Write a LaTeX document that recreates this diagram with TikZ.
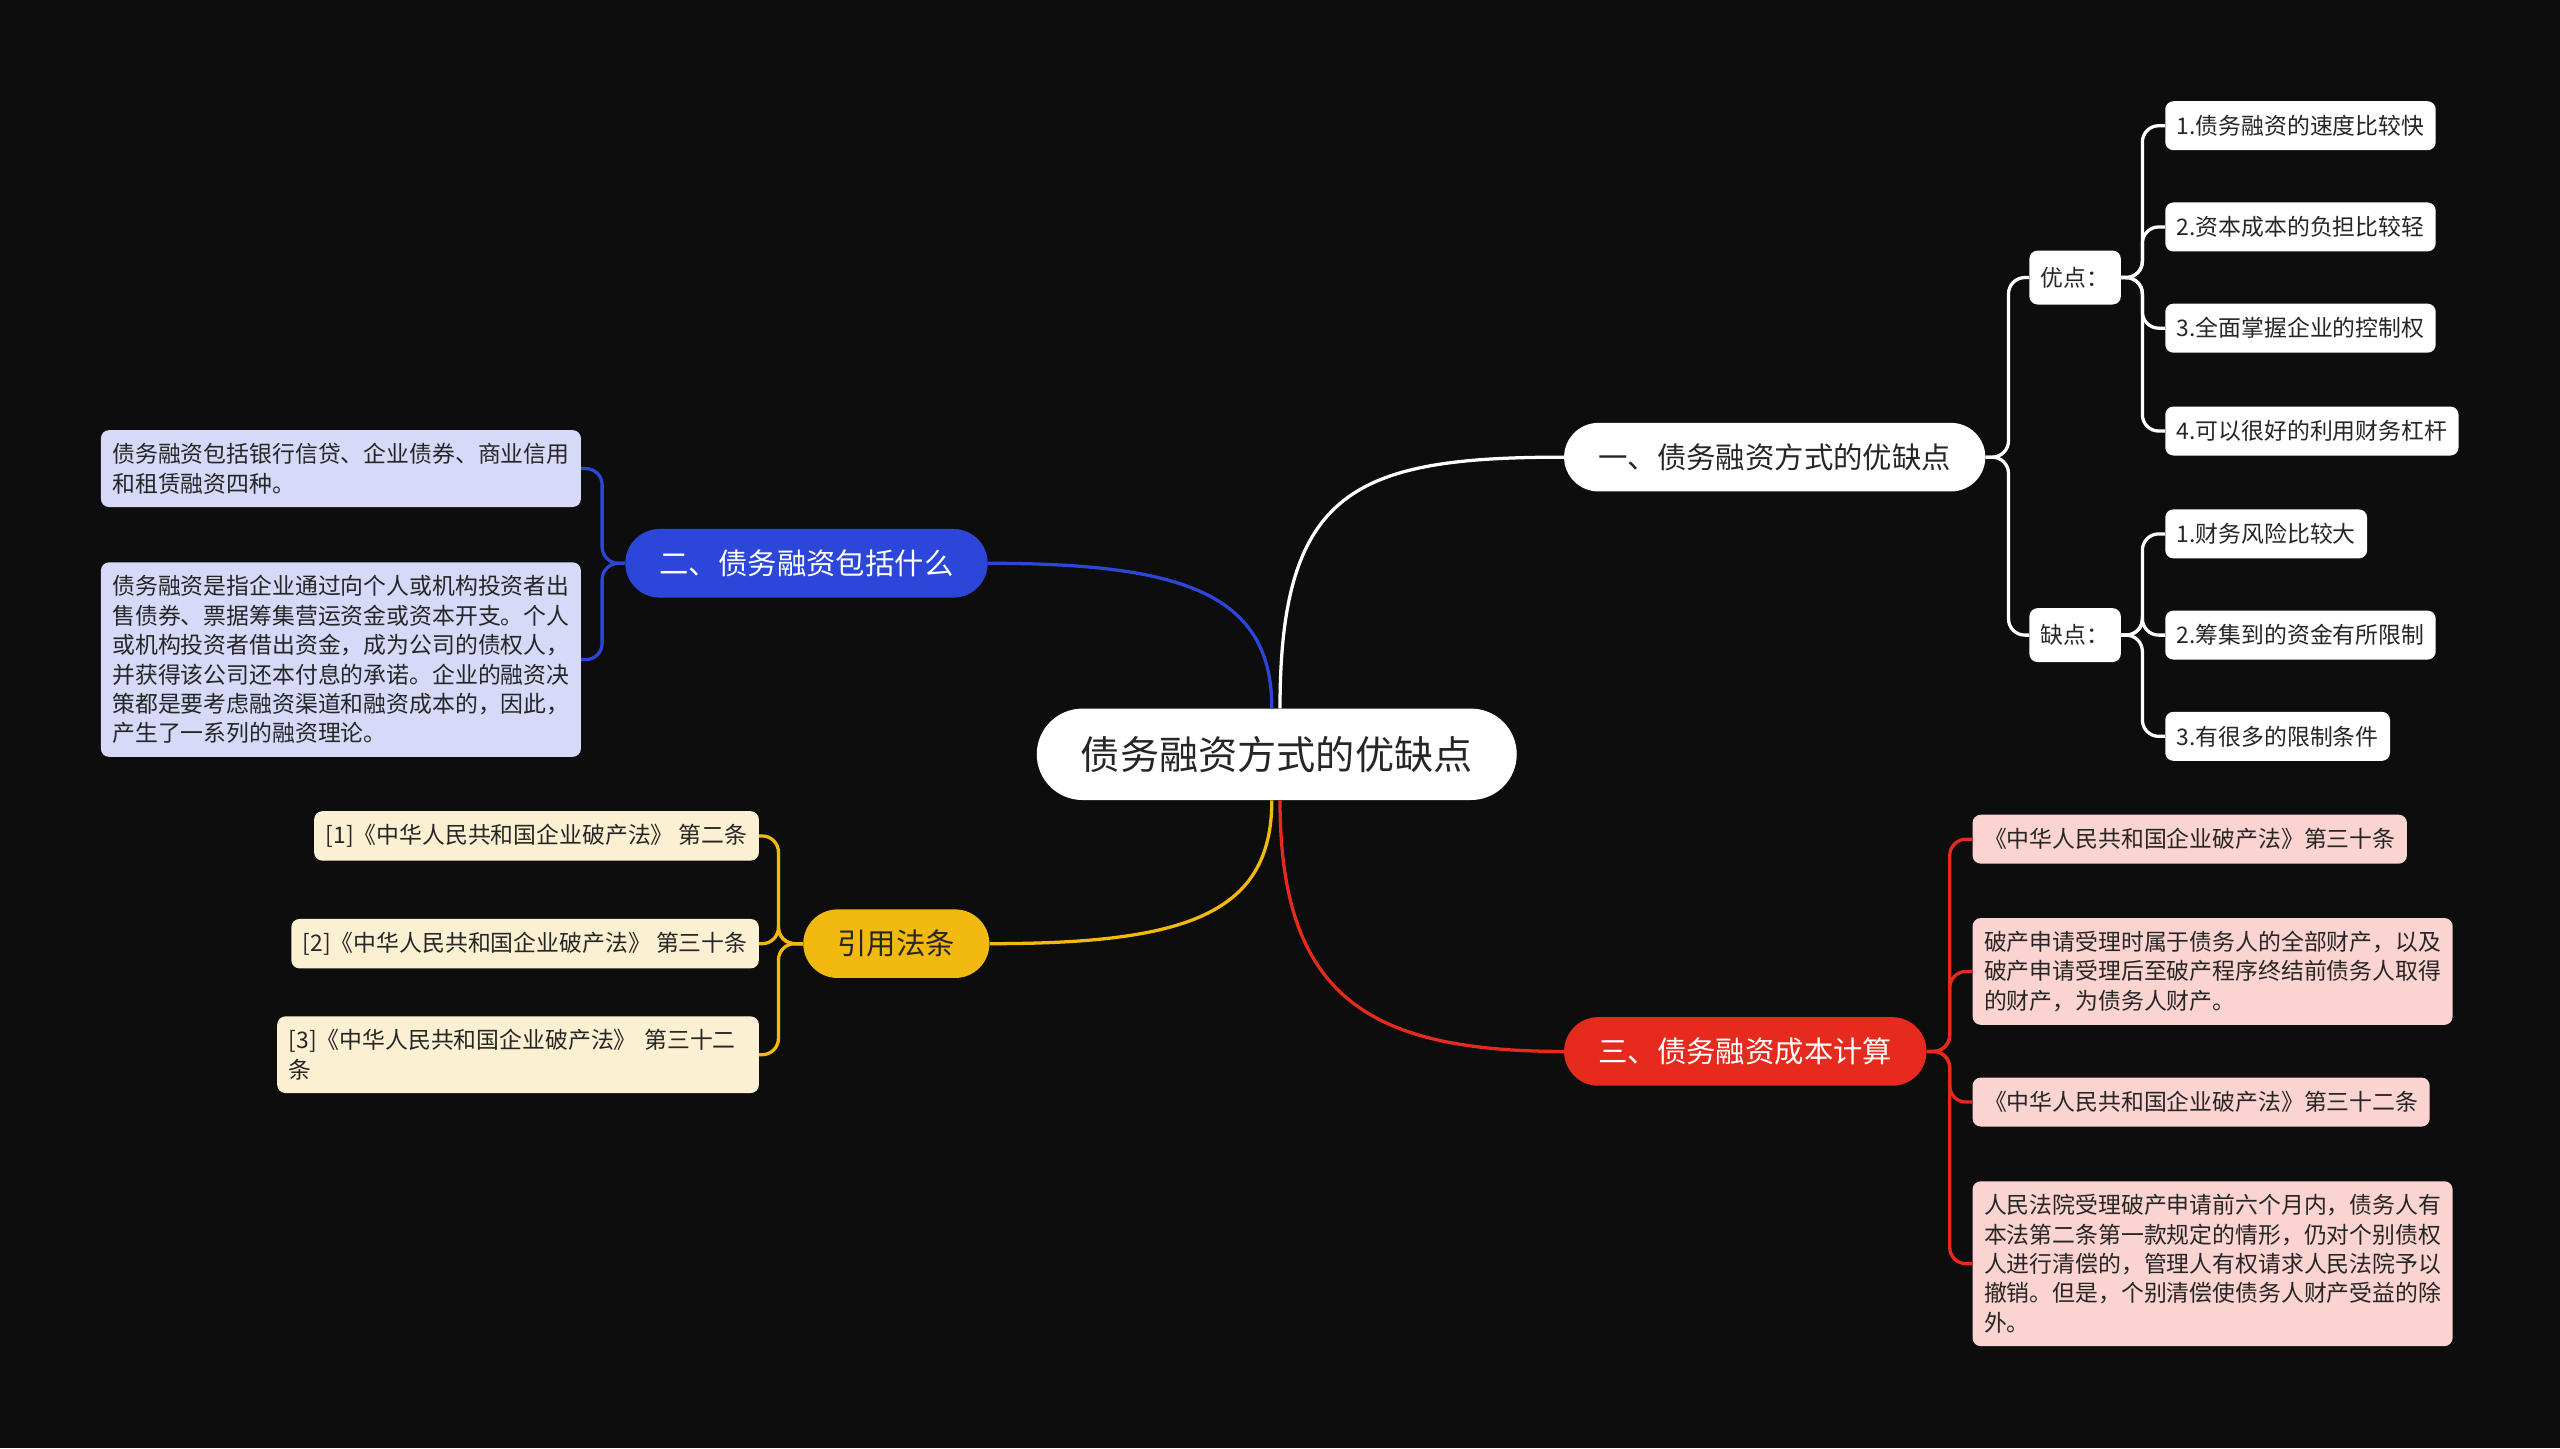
\documentclass[tikz,border=0pt]{standalone}
\usepackage{fontspec}
\setmainfont{Noto Sans CJK SC}
\usepackage{xcolor}
\definecolor{bgc}{HTML}{0D0D0D}
\definecolor{txtc}{HTML}{262626}
\definecolor{bluec}{HTML}{2B46D8}
\definecolor{bluel}{HTML}{D6D9F7}
\definecolor{yelc}{HTML}{F2B90F}
\definecolor{yell}{HTML}{FCF0D2}
\definecolor{redc}{HTML}{E72A1E}
\definecolor{redl}{HTML}{FBD3D0}
\tikzset{
  link/.style={line width=2pt, rounded corners=10pt},
  root/.style={fill=white, text=txtc, rounded corners=28pt, minimum height=56pt, inner xsep=27pt, inner ysep=0pt, font=\fontsize{24}{28}\selectfont},
  branch/.style={rounded corners=21pt, minimum height=42pt, inner xsep=21pt, inner ysep=0pt, font=\fontsize{18}{22}\selectfont},
  leaf/.style={rounded corners=5pt, minimum height=30pt, inner xsep=7pt, inner ysep=8pt, align=left, text=txtc, font=\fontsize{14}{18}\selectfont},
}
\newcommand{\mmbranch}[4]{\draw[link,#1] (#2) -- ++(#3,0) |- (#4);}

\begin{document}
\begin{tikzpicture}[x=1pt,y=-1pt]
\fill[bgc] (0,0) rectangle (1568,887);
\useasboundingbox (0,0) rectangle (1568,887);

\node[root] (root) at (782,462) {债务融资方式的优缺点};
\node[branch, fill=white, text=txtc] (adv) at (1087,280) {一、债务融资方式的优缺点};
\node[branch, fill=bluec, text=white] (incl) at (494,345) {二、债务融资包括什么};
\node[branch, fill=yelc, text=txtc] (law) at (549,578) {引用法条};
\node[branch, fill=redc, text=white] (cost) at (1069,644) {三、债务融资成本计算};

\draw[link, white] ([xshift=2pt]root.north) .. controls +(0,-134) and +(-128,0) .. (adv.west);
\draw[link, bluec] ([xshift=-3pt]root.north) .. controls +(0,-70) and +(120,0) .. (incl.east);
\draw[link, yelc] ([xshift=-3pt]root.south) .. controls +(0,70) and +(120,0) .. (law.east);
\draw[link, redc] ([xshift=2pt]root.south) .. controls +(0,120) and +(-120,0) .. (cost.west);

% advantages / disadvantages
\node[leaf, fill=white, minimum height=33pt] (pro) at (1271,170) {优点：};
\node[leaf, fill=white, minimum height=33pt] (con) at (1271,389) {缺点：};
\mmbranch{white}{adv.east}{14}{pro.west}
\mmbranch{white}{adv.east}{14}{con.west}

\node[leaf, fill=white, anchor=west] (pro1) at (1326,77) {1.债务融资的速度比较快};
\node[leaf, fill=white, anchor=west] (pro2) at (1326,139) {2.资本成本的负担比较轻};
\node[leaf, fill=white, anchor=west] (pro3) at (1326,201) {3.全面掌握企业的控制权};
\node[leaf, fill=white, anchor=west] (pro4) at (1326,264) {4.可以很好的利用财务杠杆};
\mmbranch{white}{pro.east}{13}{pro1.west}
\mmbranch{white}{pro.east}{13}{pro2.west}
\mmbranch{white}{pro.east}{13}{pro3.west}
\mmbranch{white}{pro.east}{13}{pro4.west}

\node[leaf, fill=white, anchor=west] (con1) at (1326,327) {1.财务风险比较大};
\node[leaf, fill=white, anchor=west] (con2) at (1326,389) {2.筹集到的资金有所限制};
\node[leaf, fill=white, anchor=west] (con3) at (1326,451) {3.有很多的限制条件};
\mmbranch{white}{con.east}{13}{con1.west}
\mmbranch{white}{con.east}{13}{con2.west}
\mmbranch{white}{con.east}{13}{con3.west}

% what it includes
\node[leaf, fill=bluel, anchor=east] (inc1) at (356,287) {债务融资包括银行信贷、企业债券、商业信用\\和租赁融资四种。};
\node[leaf, fill=bluel, anchor=east] (inc2) at (356,404) {债务融资是指企业通过向个人或机构投资者出\\售债券、票据筹集营运资金或资本开支。个人\\或机构投资者借出资金，成为公司的债权人，\\并获得该公司还本付息的承诺。企业的融资决\\策都是要考虑融资渠道和融资成本的，因此，\\产生了一系列的融资理论。};
\mmbranch{bluec}{incl.west}{-14}{inc1.east}
\mmbranch{bluec}{incl.west}{-14}{inc2.east}

% cited laws
\node[leaf, fill=yell, anchor=east] (law1) at (465,512) {[1]《中华人民共和国企业破产法》 第二条};
\node[leaf, fill=yell, anchor=east] (law2) at (465,578) {[2]《中华人民共和国企业破产法》 第三十条};
\node[leaf, fill=yell, anchor=east, text width=281pt] (law3) at (465,646) {[3]《中华人民共和国企业破产法》 第三十二\\条};
\mmbranch{yelc}{law.west}{-15}{law1.east}
\mmbranch{yelc}{law.west}{-15}{law2.east}
\mmbranch{yelc}{law.west}{-15}{law3.east}

% cost
\node[leaf, fill=redl, anchor=west] (cost1) at (1208,514) {《中华人民共和国企业破产法》第三十条};
\node[leaf, fill=redl, anchor=west] (cost2) at (1208,595) {破产申请受理时属于债务人的全部财产，以及\\破产申请受理后至破产程序终结前债务人取得\\的财产，为债务人财产。};
\node[leaf, fill=redl, anchor=west] (cost3) at (1208,675) {《中华人民共和国企业破产法》第三十二条};
\node[leaf, fill=redl, anchor=west] (cost4) at (1208,774) {人民法院受理破产申请前六个月内，债务人有\\本法第二条第一款规定的情形，仍对个别债权\\人进行清偿的，管理人有权请求人民法院予以\\撤销。但是，个别清偿使债务人财产受益的除\\外。};
\mmbranch{redc}{cost.east}{14}{cost1.west}
\mmbranch{redc}{cost.east}{14}{cost2.west}
\mmbranch{redc}{cost.east}{14}{cost3.west}
\mmbranch{redc}{cost.east}{14}{cost4.west}
\end{tikzpicture}
\end{document}
